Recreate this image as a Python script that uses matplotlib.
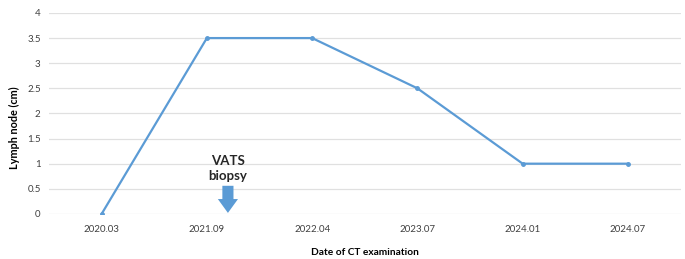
import matplotlib.pyplot as plt

dates = ['2020.03', '2021.09', '2022.04', '2023.07', '2024.01', '2024.07']
size_cm = [0, 3.5, 3.5, 2.5, 1, 1]
yticks = [0, 0.5, 1, 1.5, 2, 2.5, 3, 3.5, 4]
ytick_labels = ['0', '0.5', '1', '1.5', '2', '2.5', '3', '3.5', '4']

plt.rcParams['font.family'] = ['Lato', 'DejaVu Sans']

fig = plt.figure(figsize=(6.85, 2.59), dpi=100)
ax = fig.add_axes([0.0715, 0.174, 0.922, 0.776])

x = list(range(len(dates)))
ax.plot(x, size_cm, color='#5B9BD5', lw=1.6, marker='o', ms=2.5, zorder=3)

ax.set_xlim(-0.5, len(dates) - 0.5)
ax.set_ylim(0, 4)
ax.set_xticks(x)
ax.set_xticklabels(dates, fontsize=7, color='#404040')
ax.set_yticks(yticks)
ax.set_yticklabels(ytick_labels, fontsize=7, color='#404040')
ax.tick_params(axis='x', length=0, pad=8)
ax.tick_params(axis='y', length=0, pad=6)
ax.grid(axis='y', color='#E0E0E0', lw=0.9)
ax.set_axisbelow(True)
for s in ax.spines.values():
    s.set_visible(False)

ax.set_xlabel('Date of CT examination', fontsize=7.3, fontweight='bold', labelpad=10)
ax.set_ylabel('Lymph node (cm)', fontsize=7.8, fontweight='bold', labelpad=8)
ax.yaxis.set_label_coords(-0.046, 0.43)

# biopsy marker
ax.annotate('', xy=(1.2, 0.02), xytext=(1.2, 0.56),
            arrowprops=dict(arrowstyle='simple,head_width=1.45,head_length=1.0,tail_width=0.8',
                            color='#5B9BD5', lw=0, shrinkA=0, shrinkB=0))
ax.text(1.2, 0.9, 'VATS\nbiopsy', ha='center', va='center', fontsize=9.5,
        fontweight='bold', color='#262626', linespacing=1.3)

fig.savefig('out.png', dpi=100)
